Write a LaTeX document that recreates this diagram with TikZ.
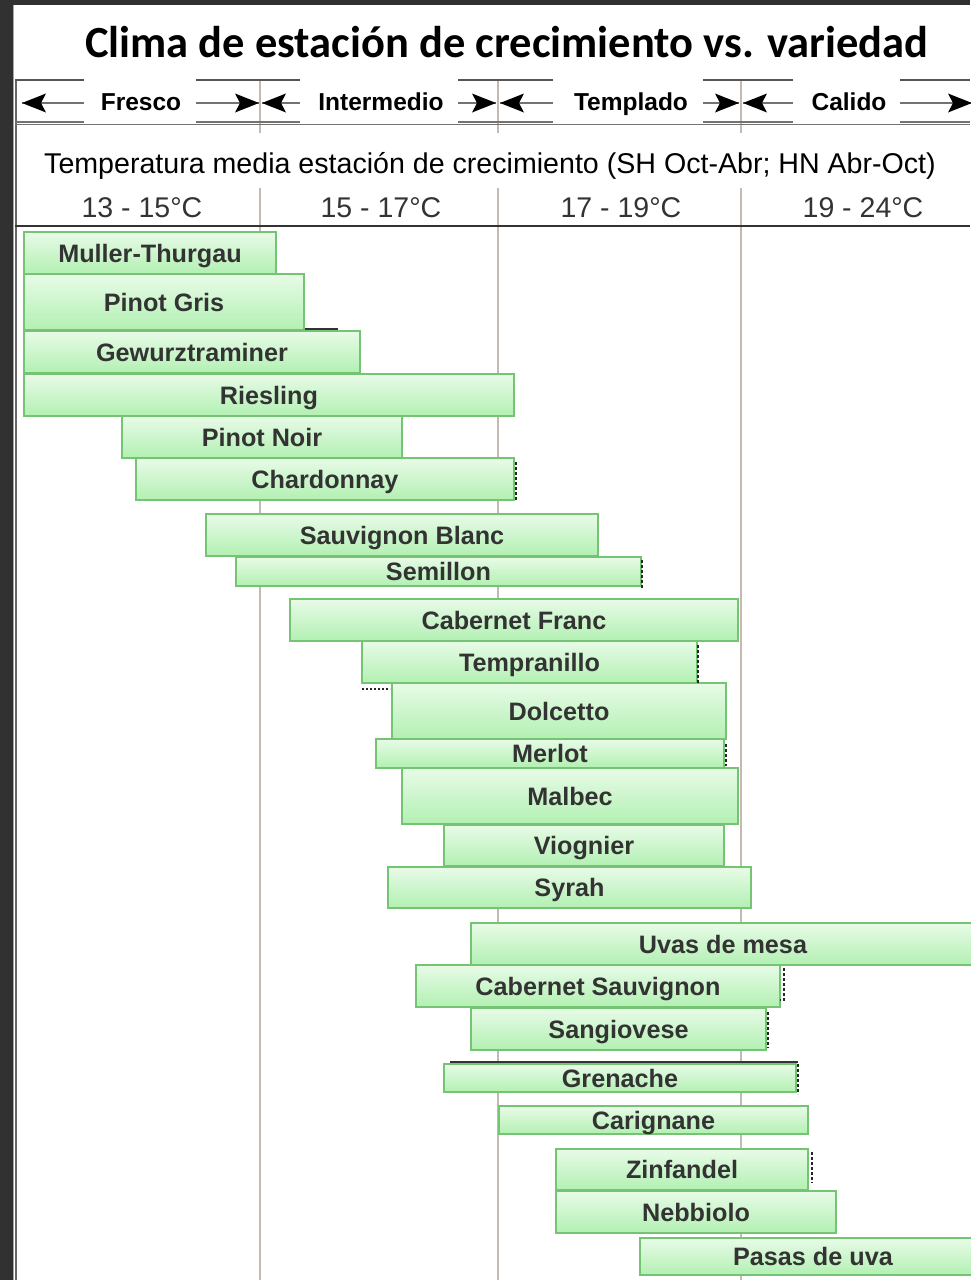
\documentclass[tikz,border=0pt]{standalone}
\usepackage{fontspec}
\setmainfont{Liberation Sans}
\newfontfamily\titlefont{Carlito}
\definecolor{barborder}{HTML}{74C474}
\definecolor{bartop}{HTML}{E8FBE8}
\definecolor{barbot}{HTML}{B2F0B2}
\definecolor{bartext}{HTML}{333333}
\definecolor{divline}{HTML}{C4BAB2}
\definecolor{darkbg}{HTML}{313131}
\definecolor{frameline}{HTML}{555555}
\newcommand{\vbar}[6]{%
  \node[varbar, minimum width={(#4-#2)*1pt}, minimum height={(#5-#3)*1pt}]
    (#1) at ({(#2+#4)/2},{(#3+#5)/2}) {#6};}
% arrowhead pointing left / right with tip at the given coordinate
\newcommand{\headleft}[1]{\fill[arrowhead] (#1) -- ++(24,-9.5) -- ++(-5,9.5) -- ++(5,9.5) -- cycle;}
\newcommand{\headright}[1]{\fill[arrowhead] (#1) -- ++(-24,-9.5) -- ++(5,9.5) -- ++(-5,9.5) -- cycle;}
\begin{document}
\begin{tikzpicture}[x=1pt,y=-1pt,
  varbar/.style={draw=barborder, line width=1.3pt, top color=bartop, bottom color=barbot,
    inner sep=0pt, outer sep=0pt, text=bartext, text height=18pt, text depth=0pt,
    font=\bfseries\fontsize{25.2}{27}\selectfont},
  titlestyle/.style={font=\titlefont\bfseries\fontsize{44.5}{46}\selectfont, text=black, inner sep=0pt, anchor=base},
  catlabel/.style={font=\bfseries\fontsize{24.5}{26}\selectfont, text=black, inner sep=0pt, anchor=base},
  subtstyle/.style={font=\fontsize{28.6}{30}\selectfont, text=black, inner sep=0pt, anchor=base},
  templabel/.style={font=\fontsize{28.5}{30}\selectfont, text=bartext, inner sep=0pt, anchor=base},
  catline/.style={draw=black!55, line width=2.6pt},
  arrowhead/.style={fill=black},
  hseg/.style={draw=frameline, line width=2pt},
  divider/.style={draw=divline, line width=2pt},
  artefact/.style={draw=black!85, line width=1.2pt, dash pattern=on 3pt off 2pt},
  artsolid/.style={draw=black!80, line width=2pt}
]
\useasboundingbox (0,0) rectangle (970,1280);
% background and frame
\fill[white] (0,0) rectangle (970,1280);
\fill[darkbg] (0,0) rectangle (970,5);
\fill[darkbg] (0,0) rectangle (13,1280);
\draw[draw=black!35, line width=1pt] (13.5,5) -- (13.5,1280);
\draw[draw=black!60, line width=2pt] (16,80) -- (16,1280);

% dividers
\foreach \xx in {260,498,741}{
  \draw[divider] (\xx,80) -- (\xx,133);
  \draw[divider] (\xx,188) -- (\xx,1280);
}

% title
\node[titlestyle] (title) at (507,57) {Clima de estación de crecimiento vs. variedad};

% header band segments
\foreach \a/\b in {15/84,196/300,458/553,703/793,900/970}{
  \draw[hseg] (\a,80) -- (\b,80);
  \draw[hseg, draw=black!55] (\a,121.5) -- (\b,121.5);
}
\draw[draw=black!55, line width=1pt] (15,124) -- (970,124);

% category labels
\node[catlabel] (fresco) at (141,110) {Fresco};
\node[catlabel] (intermedio) at (381,110) {Intermedio};
\node[catlabel] (templado) at (631,110) {Templado};
\node[catlabel] (calido) at (849,110) {Calido};

% arrows
\coordinate (a1s) at (84,103);   \coordinate (a1e) at (22,103);
\coordinate (a2s) at (196,103);  \coordinate (a2e) at (259,103);
\coordinate (a3s) at (300,103);  \coordinate (a3e) at (262,103);
\coordinate (a4s) at (458,103);  \coordinate (a4e) at (496,103);
\coordinate (a5s) at (553,103);  \coordinate (a5e) at (500,103);
\coordinate (a6s) at (703,103);  \coordinate (a6e) at (739,103);
\coordinate (a7s) at (793,103);  \coordinate (a7e) at (743,103);
\coordinate (a8s) at (900,103);  \coordinate (a8e) at (972,103);
\foreach \i in {1,...,8}{ \draw[catline] (a\i s) -- (a\i e); }
\headleft{a1e} \headright{a2e} \headleft{a3e} \headright{a4e}
\headleft{a5e} \headright{a6e} \headleft{a7e} \headright{a8e}

% subtitle and temperature ranges
\node[subtstyle] (subtitle) at (490,173) {Temperatura media estación de crecimiento (SH Oct-Abr; HN Abr-Oct)};
\node[templabel] (t1) at (142,217) {13 - 15°C};
\node[templabel] (t2) at (381,217) {15 - 17°C};
\node[templabel] (t3) at (621,217) {17 - 19°C};
\node[templabel] (t4) at (863,217) {19 - 24°C};
\draw[draw=black!80, line width=2pt] (15,226) -- (970,226);

% artefacts behind bars
\draw[artsolid] (304,329) -- (338,329);
\draw[artsolid] (450,1062) -- (798,1062);
\draw[artefact, dash pattern=on 2pt off 2pt] (362,689) -- (390,689);

% bars
\vbar{muller}{24}{232}{276}{274}{Muller-Thurgau}
\vbar{pinotgris}{24}{274}{304}{330}{Pinot Gris}
\vbar{gewurz}{24}{331}{360}{373}{Gewurztraminer}
\vbar{riesling}{24}{374}{514}{416}{Riesling}
\vbar{pinotnoir}{122}{416}{402}{458}{Pinot Noir}
\vbar{chardonnay}{136}{458}{514}{500}{Chardonnay}
\vbar{sauvblanc}{206}{514}{598}{556}{Sauvignon Blanc}
\vbar{semillon}{236}{557}{641}{586}{Semillon}
\vbar{cabfranc}{290}{599}{738}{641}{Cabernet Franc}
\vbar{tempranillo}{362}{641}{697}{683}{Tempranillo}
\vbar{dolcetto}{392}{683}{726}{739}{Dolcetto}
\vbar{merlot}{376}{739}{724}{768}{Merlot}
\vbar{malbec}{402}{768}{738}{824}{Malbec}
\vbar{viognier}{444}{825}{724}{866}{Viognier}
\vbar{syrah}{388}{867}{751}{908}{Syrah}
\vbar{uvas}{471}{923}{975}{965}{Uvas de mesa}
\vbar{cabsauv}{416}{965}{780}{1007}{Cabernet Sauvignon}
\vbar{sangiovese}{471}{1008}{766}{1050}{Sangiovese}
\vbar{grenache}{444}{1064}{796}{1092}{Grenache}
\vbar{carignane}{499}{1106}{808}{1134}{Carignane}
\vbar{zinfandel}{556}{1149}{808}{1190}{Zinfandel}
\vbar{nebbiolo}{556}{1191}{836}{1233}{Nebbiolo}
\vbar{pasas}{640}{1238}{986}{1275}{Pasas de uva}

% dashed artefacts at bar edges
\draw[artefact] (516,462) -- (516,500);
\draw[artefact] (642,560) -- (642,588);
\draw[artefact] (698,645) -- (698,683);
\draw[artefact] (726,744) -- (726,766);
\draw[artefact] (784,968) -- (784,1000) -- (780,1000);
\draw[artefact] (768,1012) -- (768,1048);
\draw[artefact] (798,1064) -- (798,1094);
\draw[artefact] (812,1152) -- (812,1183);
\end{tikzpicture}
\end{document}
